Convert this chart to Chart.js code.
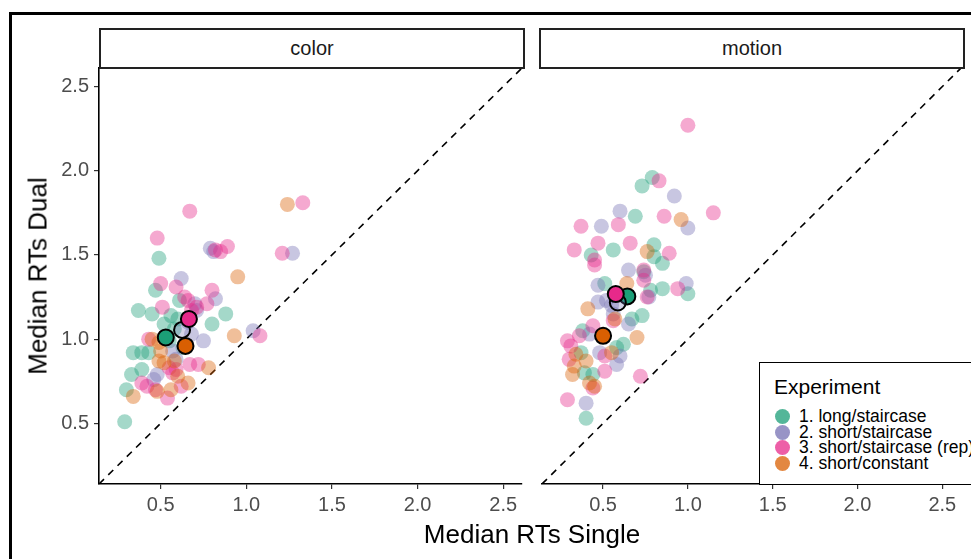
<!DOCTYPE html>
<html>
<head>
<meta charset="utf-8">
<script src="https://cdn.jsdelivr.net/npm/chart.js@4.4.1/dist/chart.umd.min.js"></script>
<style>
    html, body { margin: 0; padding: 0; background: #fff; overflow: hidden; }
    body { width: 971px; height: 559px; position: relative; font-family: "Liberation Sans", Arial, sans-serif; }
    .frame { position: absolute; left: 9px; top: 12px; width: 1100px; height: 700px; border: 3px solid #000; }
    canvas { position: absolute; top: 0; }
    .strip { position: absolute; top: 28px; height: 41px; box-sizing: border-box; border: 2px solid #222;
             background: #fff; text-align: center; line-height: 37px; font-size: 20px; color: #1a1a1a; }
    .title { position: absolute; font-size: 26px; color: #000; white-space: nowrap; }
    .legend { position: absolute; left: 759px; top: 362px; width: 300px; height: 123px; box-sizing: border-box;
              border: 1.5px solid #000; background: #fff; }
    .legend .lt { position: absolute; left: 14px; top: 12px; font-size: 21px; color: #000; }
    .legend .item { position: absolute; left: 15px; font-size: 17.5px; color: #000; line-height: 17px; white-space: nowrap; }
    .legend .dot { display: inline-block; width: 15px; height: 15px; border-radius: 50%; vertical-align: -2px; margin-right: 9px; }
</style>
</head>
<body>
<div class="frame"></div>
<canvas id="colorPanel" width="532" height="559" style="left:0"></canvas>
<canvas id="motionPanel" width="439" height="559" style="left:532px"></canvas>
<div class="strip" style="left:99px;width:426px">color</div>
<div class="strip" style="left:539px;width:426px">motion</div>
<div class="title" style="left:532px;top:519px;transform:translateX(-50%)">Median RTs Single</div>
<div class="title" style="left:38px;top:276px;transform:translate(-50%,-50%) rotate(-90deg)">Median RTs Dual</div>
<div class="legend" id="legend"><div class="lt">Experiment</div></div>
<script>
// 数据：各实验组的中位反应时 (单任务 x, 双任务 y)
const experiments = ['1. long/staircase', '2. short/staircase', '3. short/staircase (rep)', '4. short/constant'];
const palette = ['27,158,119', '117,112,179', '231,41,138', '217,95,2'];

const axisMin = 0.14;
const axisMax = 2.61;
const tickVals = [0.5, 1.0, 1.5, 2.0, 2.5];

// color 面板
const colorLong = [[0.49,1.48],[0.47,1.29],[0.37,1.17],[0.45,1.15],[0.56,1.14],[0.60,1.12],[0.61,1.23],[0.88,1.15],[0.80,1.09],[0.34,0.92],[0.39,0.92],[0.43,0.92],[0.33,0.79],[0.39,0.82],[0.30,0.70],[0.29,0.51],[0.58,1.06],[0.55,0.99],[0.63,0.95],[0.52,1.09]];
const colorShort = [[0.79,1.54],[0.81,1.52],[1.27,1.51],[0.62,1.36],[0.82,1.24],[0.71,1.17],[0.75,0.99],[1.04,1.05],[0.46,0.76],[0.48,0.79],[0.57,0.93],[0.68,1.03],[0.70,1.21],[0.59,0.88],[0.66,1.10]];
const colorRep = [[0.67,1.76],[1.33,1.81],[0.48,1.60],[0.82,1.53],[0.85,1.52],[0.89,1.55],[1.21,1.51],[0.50,1.33],[0.59,1.31],[0.80,1.29],[0.77,1.21],[0.64,1.25],[0.66,1.23],[0.51,1.19],[0.71,1.19],[1.08,1.02],[0.43,1.00],[0.55,0.83],[0.59,0.82],[0.67,0.85],[0.72,0.85],[0.39,0.74],[0.42,0.72],[0.47,0.70],[0.62,0.72],[0.54,0.65],[0.68,1.17],[0.57,0.80]];
const colorConst = [[1.24,1.80],[0.95,1.37],[0.93,1.02],[0.45,1.00],[0.49,0.98],[0.49,0.87],[0.52,0.86],[0.78,0.83],[0.60,0.78],[0.66,0.74],[0.56,0.70],[0.48,0.69],[0.34,0.66],[0.50,0.93],[0.58,0.87]];
const colorMeans = [[0.53,1.01],[0.625,1.055],[0.665,1.12],[0.645,0.96]];

// motion 面板
const motionLong = [[0.73,1.91],[0.79,1.96],[0.69,1.73],[0.56,1.53],[0.80,1.56],[0.80,1.49],[0.43,1.50],[0.85,1.45],[0.74,1.40],[0.51,1.33],[0.85,1.30],[1.00,1.27],[0.78,1.29],[0.73,1.14],[0.67,1.12],[0.38,1.05],[0.62,0.97],[0.58,0.95],[0.37,0.92],[0.39,0.80],[0.40,0.53],[0.44,0.79]];
const motionShort = [[0.92,1.85],[0.60,1.76],[1.00,1.66],[0.49,1.67],[0.65,1.41],[0.75,1.38],[0.47,1.32],[0.99,1.33],[0.77,1.25],[0.47,1.22],[0.52,1.23],[0.55,1.20],[0.65,1.09],[0.42,1.03],[0.60,0.90],[0.58,0.85],[0.40,0.62],[0.56,1.15],[0.48,0.92]];
const motionRep = [[1.00,2.27],[0.83,1.94],[1.15,1.75],[0.86,1.73],[0.37,1.67],[0.59,1.68],[0.33,1.53],[0.47,1.57],[0.66,1.57],[0.89,1.51],[0.45,1.47],[0.45,1.44],[0.74,1.41],[0.74,1.35],[0.94,1.30],[0.56,1.11],[0.44,1.08],[0.29,0.99],[0.31,0.96],[0.51,0.90],[0.30,0.88],[0.51,0.81],[0.72,0.78],[0.44,0.71],[0.29,0.64],[0.76,1.25],[0.36,1.02]];
const motionConst = [[0.96,1.71],[0.76,1.52],[0.64,1.33],[0.41,1.18],[0.57,1.12],[0.70,1.01],[0.55,0.92],[0.34,0.91],[0.33,0.84],[0.32,0.79],[0.42,0.74],[0.45,0.72],[0.40,0.87]];
const motionMeans = [[0.643,1.254],[0.587,1.218],[0.575,1.268],[0.50,1.02]];

// 均值点填充透明度 (第2组在原图里几乎是空心的)
const meanAlpha = [1, 0.3, 1, 1];

const FONT = '"Liberation Sans", Arial, sans-serif';
const toXY = arr => arr.map(p => ({ x: p[0], y: p[1] }));

function makePanel(canvasId, groups, means, showY, pad) {
    const ctx = document.getElementById(canvasId).getContext('2d');
    const datasets = [];
    // 均值点 (最上层)
    datasets.push({
        data: toXY(means),
        backgroundColor: palette.map((c, i) => `rgba(${c},${meanAlpha[i]})`),
        borderColor: '#000',
        borderWidth: 2,
        pointRadius: 8
    });
    // 原始点: 第4组画在最上
    for (let g = groups.length - 1; g >= 0; g--) {
        datasets.push({
            data: toXY(groups[g]),
            backgroundColor: `rgba(${palette[g]},0.4)`,
            borderWidth: 0,
            pointRadius: 7.5
        });
    }
    // y = x 虚线
    datasets.push({
        data: [{ x: axisMin, y: axisMin }, { x: axisMax, y: axisMax }],
        showLine: true,
        borderColor: '#000',
        borderWidth: 1.6,
        borderDash: [7, 6],
        pointRadius: 0
    });

    return new Chart(ctx, {
        type: 'scatter',
        data: { datasets },
        options: {
            responsive: false,
            animation: false,
            layout: { padding: pad },
            plugins: { legend: { display: false }, tooltip: { enabled: false } },
            scales: {
                x: {
                    type: 'linear', min: axisMin, max: axisMax,
                    afterBuildTicks: s => { s.ticks = tickVals.map(v => ({ value: v })); },
                    afterFit: s => { s.height = 40; },
                    ticks: { callback: v => v.toFixed(1), font: { size: 20, family: FONT }, color: '#4d4d4d', padding: 4, maxRotation: 0, autoSkip: false },
                    grid: { drawOnChartArea: false, drawTicks: true, tickLength: 5, color: '#333', lineWidth: 1.2 },
                    border: { display: true, color: '#000', width: 1.6 }
                },
                y: {
                    type: 'linear', min: axisMin, max: axisMax, display: showY,
                    afterBuildTicks: s => { s.ticks = tickVals.map(v => ({ value: v })); },
                    afterFit: s => { s.width = showY ? 99 : 0; },
                    ticks: { callback: v => v.toFixed(1), font: { size: 20, family: FONT }, color: '#4d4d4d', padding: 5, autoSkip: false },
                    grid: { drawOnChartArea: false, drawTicks: true, tickLength: 5, color: '#333', lineWidth: 1.2 },
                    border: { display: true, color: '#000', width: 1.6 }
                }
            }
        }
    });
}

makePanel('colorPanel', [colorLong, colorShort, colorRep, colorConst], colorMeans, true,
    { left: 0, right: 7, top: 68, bottom: 35 });
makePanel('motionPanel', [motionLong, motionShort, motionRep, motionConst], motionMeans, false,
    { left: 7, right: 6, top: 68, bottom: 35 });

// 图例
const legend = document.getElementById('legend');
experiments.forEach((name, i) => {
    const item = document.createElement('div');
    item.className = 'item';
    item.style.top = (45 + i * 15.5) + 'px';
    item.innerHTML = `<span class="dot" style="background:rgba(${palette[i]},0.75)"></span>${name}`;
    legend.appendChild(item);
});
</script>
</body>
</html>
